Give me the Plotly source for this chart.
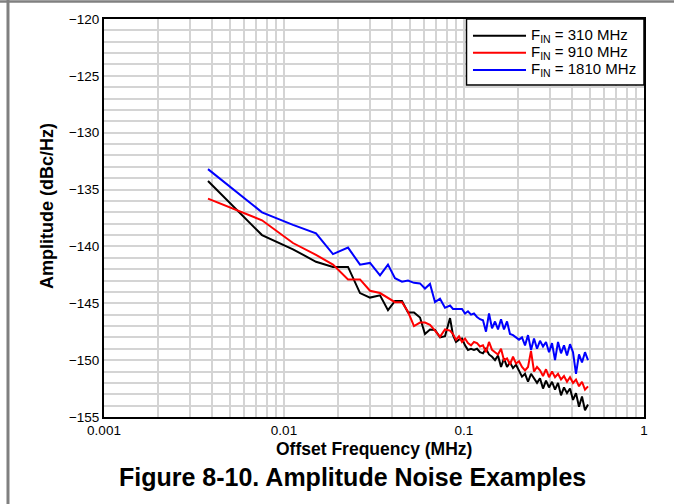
import plotly.graph_objects as go

# Offset frequency (MHz)
freq_mhz = [0.003782, 0.007548, 0.01122, 0.01506, 0.01871, 0.02268, 0.02644, 0.03005,
            0.03415, 0.03782, 0.04136, 0.04524, 0.04886, 0.05275, 0.05696, 0.06071,
            0.06474, 0.06902, 0.07356, 0.07841,
            0.08365, 0.08687, 0.09028, 0.09381, 0.09747, 0.1013, 0.1052, 0.1094, 0.1136,
            0.1181, 0.1227, 0.1275, 0.1325, 0.1377, 0.1431, 0.1487, 0.1545, 0.1606,
            0.1668, 0.1734, 0.1801, 0.1872, 0.1945, 0.2021, 0.2100, 0.2183, 0.2268,
            0.2357, 0.2449, 0.2545, 0.2644, 0.2748, 0.2855, 0.2967, 0.3083, 0.3204,
            0.3329, 0.3459, 0.3594, 0.3735, 0.3881, 0.4033, 0.4190, 0.4354, 0.4524,
            0.4701, 0.4885]

amp_310 = [-134.25, -139.0, -140.25, -141.35, -141.8, -141.8, -144.1, -144.5, -144.3, -145.6,
           -144.8, -144.8, -145.8, -145.8, -146.25, -147.7, -147.3, -147.35, -148.0, -147.9,
           -146.3, -147.8, -148.4, -148.2, -148.1, -148.7, -149.1, -149.0, -149.1, -149.0,
           -149.3, -149.4, -149.0, -149.5, -149.7, -150.0, -149.6, -150.6, -149.85, -150.6,
           -150.2, -150.7, -150.4, -150.9, -151.45, -151.2, -151.9, -151.2, -151.6, -152.0,
           -151.6, -152.5, -151.8, -152.4, -151.9, -152.6, -152.0, -153.1, -152.4, -152.9,
           -152.5, -153.5, -152.9, -154.1, -153.2, -154.4, -153.9]

amp_910 = [-135.8, -137.7, -139.7, -140.75, -141.6, -142.9, -142.9, -143.9, -144.1, -144.5,
           -144.9, -144.9, -145.75, -147.0, -146.7, -146.7, -146.9, -147.4, -147.95, -147.3,
           -147.4, -147.7, -148.2, -147.9, -148.4, -148.1, -148.5, -148.7, -148.4, -148.5,
           -148.8, -148.7, -149.3, -148.4, -149.1, -149.3, -149.5, -149.0, -150.0, -149.85,
           -150.4, -149.7, -150.3, -150.1, -150.6, -150.9, -150.6, -149.2, -151.0, -150.6,
           -150.9, -151.4, -150.8, -151.5, -151.0, -151.5, -151.2, -151.7, -151.4, -151.9,
           -151.5, -152.0, -151.7, -152.3, -151.9, -152.6, -152.3]

amp_1810 = [-133.2, -137.0, -138.1, -138.85, -140.67, -140.1, -141.6, -141.45, -142.55, -141.6,
            -142.8, -143.1, -143.0, -143.2, -143.25, -143.7, -143.3, -144.9, -144.6, -145.4,
            -145.2, -145.5, -145.5, -145.5, -145.5, -145.9, -145.7, -146.0, -145.9, -146.2,
            -146.4, -146.5, -147.5, -145.9, -147.2, -146.6, -147.3, -146.4, -147.3, -146.6,
            -147.7, -147.8, -148.0, -148.2, -148.0, -148.7, -147.8, -149.1, -148.1, -149.0,
            -148.3, -148.8, -148.4, -149.3, -148.5, -150.0, -148.4, -149.4, -148.7, -149.6,
            -148.6, -149.3, -151.2, -149.5, -150.2, -149.3, -150.0]

series_names = ["F<sub>IN</sub> = 310 MHz", "F<sub>IN</sub> = 910 MHz", "F<sub>IN</sub> = 1810 MHz"]
series_values = [amp_310, amp_910, amp_1810]
series_colors = ["#000000", "#ff0000", "#0000ff"]

x_tick_vals = [0.001, 0.01, 0.1, 1]
x_tick_text = ["0.001", "0.01", "0.1", "1"]
x_minor_vals = [m * 10 ** e for e in (-3, -2, -1) for m in range(2, 10)]
y_tick_vals = [-155, -150, -145, -140, -135, -130, -125, -120]

GRID = "#d4d4d4"
FONT = "Liberation Sans, Arial, sans-serif"

fig = go.Figure()
for name, vals, col in zip(series_names, series_values, series_colors):
    fig.add_trace(go.Scatter(x=freq_mhz, y=vals, mode="lines", name=name,
                             line=dict(color=col, width=2), showlegend=False))

fig.update_layout(
    width=674, height=504,
    margin=dict(l=104, r=30, t=19, b=87),
    paper_bgcolor="white", plot_bgcolor="white",
    font=dict(family=FONT, size=13, color="black"),
    xaxis=dict(type="log", range=[-3, 0], tickvals=x_tick_vals, ticktext=x_tick_text,
               showgrid=True, gridcolor=GRID, gridwidth=2, ticks="",
               showline=True, linecolor="black", linewidth=2, mirror=True,
               zeroline=False, tickfont=dict(size=13.5),
               minor=dict(tickvals=x_minor_vals, showgrid=True, gridcolor=GRID,
                          gridwidth=2, ticks="")),
    yaxis=dict(range=[-155, -120], tickvals=y_tick_vals, showgrid=True,
               gridcolor=GRID, gridwidth=2, ticks="",
               showline=True, linecolor="black", linewidth=2, mirror=True,
               zeroline=False, tickfont=dict(size=13.5),
               minor=dict(dtick=1, showgrid=True, gridcolor=GRID, gridwidth=2, ticks="")),
)

# Outer page border lines (gray)
fig.add_shape(type="line", xref="paper", yref="paper", x0=-0.2, x1=1.06,
              y0=1.0440, y1=1.0440, line=dict(color="#808080", width=2.5))
fig.add_shape(type="line", xref="paper", yref="paper", x0=-0.1778, x1=-0.1778,
              y0=1.06, y1=-0.23, line=dict(color="#808080", width=3))

# Manual legend box
fig.add_shape(type="rect", xref="paper", yref="paper", x0=0.6713, x1=1.0, y0=0.8342, y1=1.0,
              line=dict(color="black", width=1.5), fillcolor="white", layer="above")
leg_y = [0.958, 0.9153, 0.8719]
for name, col, yy in zip(series_names, series_colors, leg_y):
    fig.add_shape(type="line", xref="paper", yref="paper", x0=0.6833, x1=0.7815,
                  y0=yy, y1=yy, line=dict(color=col, width=2), layer="above")
    fig.add_annotation(xref="paper", yref="paper", x=0.7870, y=yy, text=name,
                       showarrow=False, xanchor="left", yanchor="middle",
                       font=dict(family=FONT, size=15, color="black"))

# Axis titles and caption
fig.add_annotation(xref="paper", yref="paper", x=-0.1056, y=0.53, text="<b>Amplitude (dBc/Hz)</b>",
                   textangle=-90, showarrow=False, xanchor="center", yanchor="middle",
                   font=dict(family=FONT, size=18))
fig.add_annotation(xref="paper", yref="paper", x=0.5, y=-0.08, text="<b>Offset Frequency (MHz)</b>",
                   showarrow=False, xanchor="center", yanchor="middle",
                   font=dict(family=FONT, size=17.5))
fig.add_annotation(xref="paper", yref="paper", x=0.46, y=-0.151,
                   text="<b>Figure 8-10. Amplitude Noise Examples</b>",
                   showarrow=False, xanchor="center", yanchor="middle",
                   font=dict(family=FONT, size=25))

fig.write_html("out.html", config={"displayModeBar": False},
               post_script="document.body.style.margin='0px';document.body.style.overflow='hidden';")
